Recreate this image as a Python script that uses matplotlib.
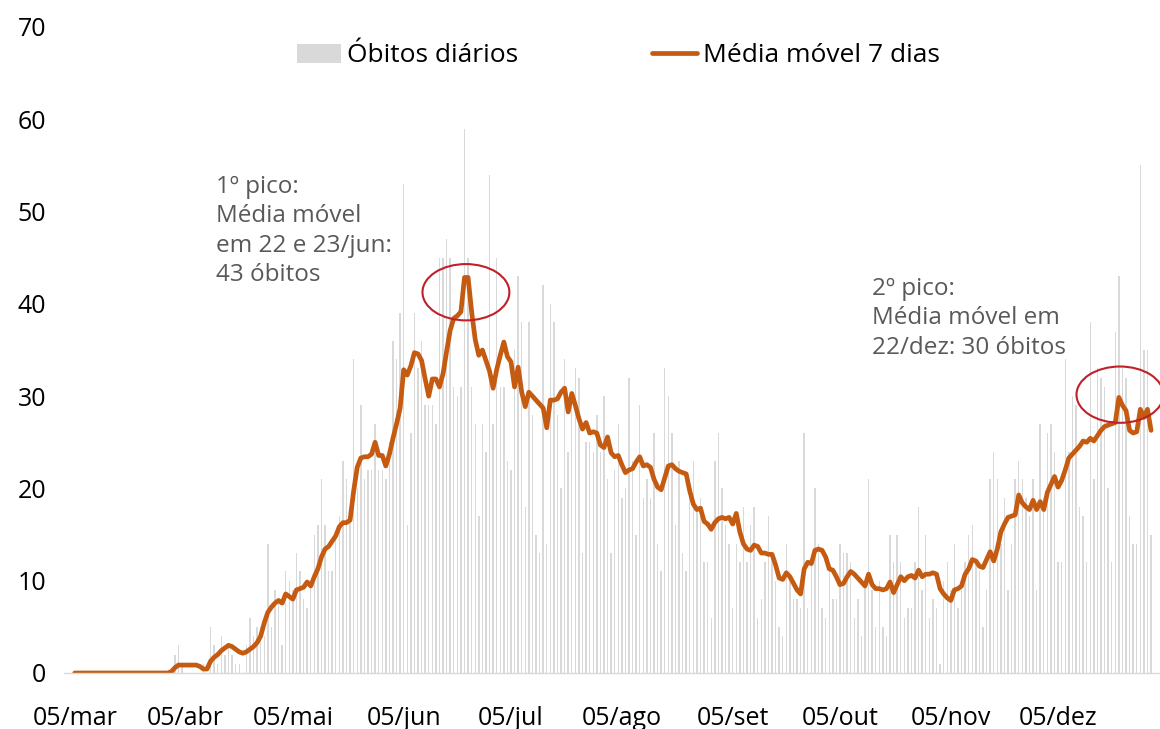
import numpy as np
import pandas as pd
import matplotlib
matplotlib.use('Agg')
import matplotlib.pyplot as plt
import matplotlib.dates as mdates
from matplotlib.patches import Ellipse

plt.rcParams['font.family'] = ['Open Sans', 'DejaVu Sans']

# Obitos diarios, de 05/mar a 31/dez
obitos = ([0] * 28
          + [2, 3, 1, 0, 0, 0, 0, 0, 1, 0,            # 28-37
             5, 3, 1, 4, 2, 3, 2, 1, 1, 0,            # 38-47
             3, 6, 4, 5, 5, 4, 14, 5, 9, 8,           # 48-57
             3, 11, 10, 9, 13, 11, 8, 7]              # 58-65
          + [10, 15, 16, 21, 16, 11, 11, 15, 17, 23,  # 66-75
             21, 17, 34, 20, 29, 21, 22, 22, 27, 22,  # 76-85
             22, 21, 25, 36, 34, 39, 53, 16, 26, 39,  # 86-95
             33, 36, 29, 29]                          # 96-99
          + [29, 27, 45, 45, 47, 45, 31, 30, 31, 59,  # 100-109
             45, 31, 27, 17, 27, 24, 54, 27, 45, 31,  # 110-119
             31, 23, 22, 35, 43, 38, 18, 38, 28, 15,  # 120-129
             13, 42, 14, 40, 38]                      # 130-134
          + [28, 20, 34, 24, 30, 33, 32, 13, 25, 25,  # 135-144
             24, 28, 24, 30, 21, 13, 22, 27, 19, 20,  # 145-154
             32, 23, 15, 29, 19, 21, 19, 26, 14, 11,  # 155-164
             33, 30, 26, 16, 23]                      # 165-169
          + [13, 11, 20, 23, 18, 19, 12, 12, 6, 23,   # 170-179
             26, 20, 16, 14, 7, 14, 12, 18, 12, 16,   # 180-189
             18, 6, 8, 12, 17, 13, 10, 5, 4, 14,      # 190-199
             10, 8, 8, 7, 26, 7]                      # 200-205
          + [12, 20, 14, 7, 6, 11, 8, 8, 14, 13,      # 206-215
             13, 12, 6, 8, 4, 10, 21, 9, 5, 10,       # 216-225
             5, 4, 15, 12, 15, 12, 6, 7, 7, 12,       # 226-235
             18, 9, 15, 6, 8, 7]                      # 236-241
          + [1, 10, 12, 9, 14, 7, 10, 12, 15, 16,     # 242-251
             12, 11, 5, 9, 21, 24, 21, 14, 19, 9,     # 252-261
             14, 21, 23, 21, 19, 17, 21, 9, 27, 19,   # 262-271
             26, 27, 24, 12, 12, 34]                  # 272-277
          + [24, 30, 29, 18, 17, 12, 38, 21, 33, 32,  # 278-287
             31, 20, 12, 37, 43, 33, 32, 17, 14, 14,  # 288-297
             55, 35, 35, 15])                         # 298-301

media = ([0] * 27
         + [0.14, 0.57, 0.86, 0.86, 0.86, 0.86, 0.86, 0.86, 0.71, 0.43,
            0.43, 1.29, 1.71, 2.0, 2.43, 2.71, 3.0, 2.86, 2.57, 2.29,
            2.14, 2.29, 2.57, 2.86, 3.29, 4.0, 5.43, 6.57, 7.14, 7.57,
            7.86, 7.57, 8.57, 8.29, 8.0, 9.0, 9.14, 9.29, 9.86, 9.43,
            10.43, 11.29, 12.57, 13.43, 13.71, 14.29, 14.86, 15.86, 16.29, 16.29,
            16.57, 19.71, 22.29, 23.29, 23.43, 23.43, 23.71, 25.0, 23.57, 23.57,
            22.43, 23.71, 25.43, 27.0, 28.71, 32.86, 32.29, 33.29, 34.71, 34.57,
            33.86, 31.86, 30.0, 31.86, 31.86, 31.0, 32.43, 34.86, 37.14, 38.43,
            38.71, 39.14, 42.86, 42.86, 39.14, 36.14, 34.43, 35.0, 33.86, 32.71,
            30.86, 32.86, 34.43, 35.86, 34.29, 33.71, 31.0, 33.14, 30.43, 28.86,
            30.43, 30.0, 29.57, 29.14, 28.71, 26.57, 29.57, 29.57, 29.71, 30.43,
            30.86, 28.29, 30.29, 29.0, 27.57, 26.43, 27.14, 26.0, 26.14, 26.0,
            24.71, 24.43, 25.57, 23.86, 23.43, 23.57, 22.57, 21.71, 22.0, 22.14,
            22.86, 23.43, 22.43, 22.57, 22.29, 21.0, 20.14, 19.86, 21.14, 22.43,
            22.57, 22.14, 21.86, 21.71, 21.57, 19.71, 18.29, 17.71, 17.86, 16.43,
            16.14, 15.57, 16.29, 16.71, 16.86, 16.71, 16.86, 16.14, 17.29, 15.29,
            14.0, 13.43, 13.29, 13.86, 13.71, 13.0, 13.0, 12.86, 12.86, 11.71,
            10.29, 10.14, 10.86, 10.43, 9.71, 9.0, 8.57, 11.29, 12.0, 11.86,
            13.29, 13.43, 13.29, 12.57, 11.29, 11.14, 10.43, 9.57, 9.71, 10.43,
            11.0, 10.71, 10.29, 9.86, 9.43, 10.71, 9.57, 9.14, 9.14, 9.0,
            9.14, 9.86, 8.71, 9.57, 10.43, 10.0, 10.43, 10.57, 10.29, 11.14,
            10.43, 10.71, 10.71, 10.86, 10.71, 9.14, 8.57, 8.14, 7.86, 9.0,
            9.14, 9.43, 10.71, 11.29, 12.29, 12.14, 11.57, 11.43, 12.29, 13.14,
            12.14, 13.43, 15.29, 16.14, 16.86, 17.0, 17.14, 19.29, 18.43, 18.0,
            17.71, 18.71, 17.71, 18.57, 17.71, 19.57, 20.43, 21.29, 20.14, 20.86,
            22.0, 23.29, 23.71, 24.14, 24.57, 25.14, 25.0, 25.43, 25.14, 25.71,
            26.29, 26.71, 26.86, 27.0, 27.14, 29.86, 29.0, 28.43, 26.29, 26.0,
            26.14, 28.57, 27.71, 28.57, 26.29])

datas = pd.date_range('2020-03-05', periods=len(obitos), freq='D')

tick_datas = pd.to_datetime(['2020-03-05', '2020-04-05', '2020-05-05', '2020-06-05',
                             '2020-07-05', '2020-08-05', '2020-09-05', '2020-10-05',
                             '2020-11-05', '2020-12-05'])
tick_labels = ['05/mar', '05/abr', '05/mai', '05/jun', '05/jul',
               '05/ago', '05/set', '05/out', '05/nov', '05/dez']

texto_pico1 = '1º pico:\nMédia móvel\nem 22 e 23/jun:\n43 óbitos'
texto_pico2 = '2º pico:\nMédia móvel em\n22/dez: 30 óbitos'

cinza = '#d9d9d9'
laranja = '#c55a11'
vermelho = '#c0202a'

fig = plt.figure(figsize=(11.6, 7.29), dpi=100)
ax = fig.add_axes([64 / 1160, 56 / 729, 1096 / 1160, 646 / 729])

barras = ax.bar(datas, obitos, width=0.4, color=cinza, label='Óbitos diários', zorder=1)
linha, = ax.plot(datas, media, color=laranja, lw=3.4, label='Média móvel 7 dias',
                 solid_joinstyle='round', solid_capstyle='round', zorder=2)

ax.set_ylim(0, 70)
ax.set_yticks(range(0, 71, 10))
ax.set_xlim(datas[0] - pd.Timedelta(days=3), datas[0] + pd.Timedelta(days=303.5))
ax.set_xticks(tick_datas)
ax.set_xticklabels(tick_labels)
ax.tick_params(axis='x', length=0, pad=24, labelsize=18)
ax.tick_params(axis='y', length=0, pad=13, labelsize=18)

for s in ['top', 'right', 'left']:
    ax.spines[s].set_visible(False)
ax.spines['bottom'].set_color(cinza)
ax.spines['bottom'].set_linewidth(1)

# elipses em volta dos dois picos
x0 = mdates.date2num(datas[0])
ax.add_patch(Ellipse((x0 + 109.4, max(media[:200]) - 1.6), width=24.3, height=6.1,
                     fill=False, edgecolor=vermelho, lw=1.5, zorder=3))
ax.add_patch(Ellipse((x0 + 292.3, media[292] + 0.3), width=24.3, height=6.1,
                     fill=False, edgecolor=vermelho, lw=1.5, zorder=3))

fig.text(216 / 1160, 1 - 175 / 729, texto_pico1, ha='left', va='top',
         fontsize=17.5, color='#595959', linespacing=1.3)
fig.text(872 / 1160, 1 - 277 / 729, texto_pico2, ha='left', va='top',
         fontsize=17.5, color='#595959', linespacing=1.3)

fig.legend(handles=[barras, linha], loc='center',
           bbox_to_anchor=((294 + 942) / 2 / 1160, 1 - 56 / 729),
           ncol=2, frameon=False, fontsize=19, handlelength=1.7, handletextpad=0.2,
           columnspacing=5.1, borderpad=0, borderaxespad=0)

fig.savefig('out.png', dpi=100)
